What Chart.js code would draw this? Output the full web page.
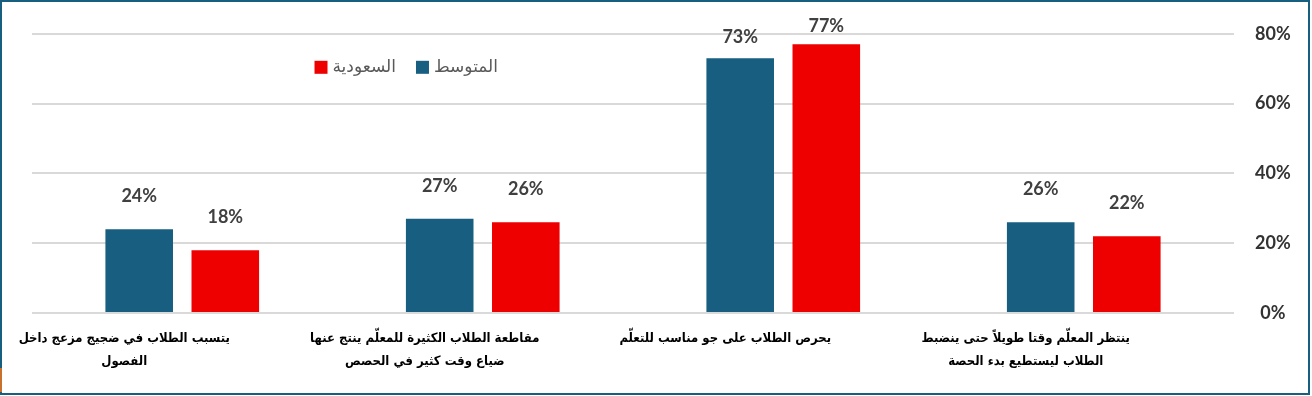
<!DOCTYPE html>
<html lang="ar">
<head>
<meta charset="utf-8">
<script src="https://cdn.jsdelivr.net/npm/chart.js@4"></script>
<style>
  html, body { margin: 0; padding: 0; background: #fff; }
  #frame { position: absolute; left: 0; top: 0; width: 1306px; height: 391px; border: 2px solid #175e7f; background: #fff; }
  #mark { position: absolute; left: 0; top: 368px; width: 2px; height: 24px; background: #c8712f; }
  canvas { display: block; }
</style>
</head>
<body>
<div id="frame"><canvas id="chart" width="1306" height="391"></canvas></div>
<div id="mark"></div>
<script>
// categories, right to left as in the original
const categories = [
  ['ينتظر المعلّم وقتا طويلاً حتى ينضبط', 'الطلاب ليستطيع بدء الحصة'],
  ['يحرص الطلاب على جو مناسب للتعلّم'],
  ['مقاطعة الطلاب الكثيرة للمعلّم ينتج عنها', 'ضياع وقت كثير في الحصص'],
  ['يتسبب الطلاب في ضجيج مزعج داخل', 'الفصول']
];
const seriesNames = ['المتوسط', 'السعودية'];
const averageValues = [26, 73, 27, 24];
const saudiValues = [22, 77, 26, 18];
const yTicks = [0, 20, 40, 60, 80];

const BLUE = '#175e80';
const RED = '#ee0000';

// value labels above the bars
const barLabels = {
  id: 'barLabels',
  afterDatasetsDraw(chart) {
    const ctx = chart.ctx;
    const top = chart.chartArea.top;
    ctx.save();
    ctx.font = 'bold 18px Lato';
    ctx.fillStyle = '#404040';
    ctx.textAlign = 'center';
    ctx.textBaseline = 'middle';
    chart.data.datasets.forEach((ds, i) => {
      chart.getDatasetMeta(i).data.forEach((bar, j) => {
        const y = Math.max(bar.y - 33, Math.min(bar.y - 18, top + 3));
        ctx.fillText(Math.round(ds.data[j]) + '%', bar.x, y);
      });
    });
    ctx.restore();
  }
};

// legend sitting inside the plot, text then box, right to left
const insideLegend = {
  id: 'insideLegend',
  afterDraw(chart) {
    const ctx = chart.ctx;
    let x = chart.chartArea.left + 466;
    const y = chart.chartArea.top + 33.5;
    ctx.save();
    ctx.font = '17px "DejaVu Sans"';
    ctx.textBaseline = 'middle';
    ctx.textAlign = 'right';
    chart.data.datasets.forEach(ds => {
      const w = ctx.measureText(ds.label).width;
      ctx.fillStyle = '#595959';
      ctx.fillText(ds.label, x, y);
      x -= w + 5 + 13;
      ctx.fillStyle = ds.backgroundColor;
      ctx.fillRect(x, y - 6.5, 13, 13);
      x -= 20;
    });
    ctx.restore();
  }
};

new Chart(document.getElementById('chart'), {
  type: 'bar',
  data: {
    labels: categories,
    datasets: [
      { label: seriesNames[0], data: averageValues, backgroundColor: BLUE },
      { label: seriesNames[1], data: saudiValues, backgroundColor: RED }
    ]
  },
  options: {
    responsive: false,
    devicePixelRatio: 1,
    animation: false,
    categoryPercentage: 0.573,
    barPercentage: 0.785,
    layout: { padding: { left: 30, top: 31, right: 0, bottom: 0 } },
    plugins: {
      legend: { display: false },
      tooltip: { enabled: false }
    },
    scales: {
      x: {
        reverse: true,
        grid: { display: false, drawTicks: false },
        border: { display: false },
        ticks: {
          color: '#000',
          font: { family: '"DejaVu Sans Condensed", "DejaVu Sans"', size: 13, weight: 'bold', lineHeight: '23px' },
          padding: 14,
          labelOffset: -58,
          minRotation: 0,
          maxRotation: 0,
          autoSkip: false
        },
        afterFit(scale) { scale.height = 80; }
      },
      y: {
        position: 'right',
        min: 0,
        max: 80,
        afterBuildTicks(scale) { scale.ticks = yTicks.map(v => ({ value: v })); },
        ticks: {
          callback: v => v + '%',
          color: '#333',
          font: { family: 'Lato', size: 18, weight: 'bold' },
          padding: 21,
          crossAlign: 'center'
        },
        grid: { color: '#d9d9d9', lineWidth: 2, drawTicks: false },
        border: { display: false },
        afterFit(scale) { scale.width = 74; }
      }
    }
  },
  plugins: [barLabels, insideLegend]
});
</script>
</body>
</html>
